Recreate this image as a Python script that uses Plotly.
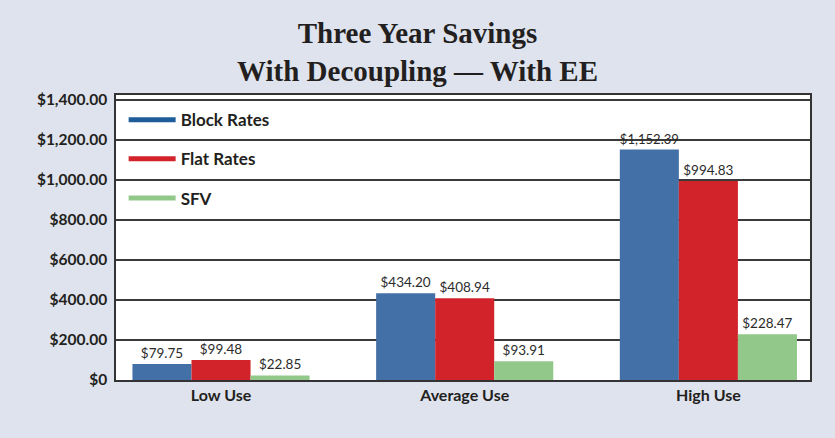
import plotly.graph_objects as go

categories = ["Low Use", "Average Use", "High Use"]
series_names = ["Block Rates", "Flat Rates", "SFV"]
block_rates = [79.75, 434.20, 1152.39]
flat_rates = [99.48, 408.94, 994.83]
sfv = [22.85, 93.91, 228.47]
tick_values = [0, 200, 400, 600, 800, 1000, 1200, 1400]
tick_labels = ["$0", "$200.00", "$400.00", "$600.00", "$800.00",
               "$1,000.00", "$1,200.00", "$1,400.00"]

bar_colors = ["#4470a8", "#d2232a", "#92c98a"]
legend_colors = ["#1f5c9a", "#d2232a", "#92c98a"]
values = [block_rates, flat_rates, sfv]

fig = go.Figure()
for name, vals, col in zip(series_names, values, bar_colors):
    fig.add_trace(go.Bar(
        x=categories, y=vals, name=name, marker=dict(color=col, line=dict(width=0)),
        texttemplate="$%{y:,.2f}", textposition="outside",
        textfont=dict(family="Lato", size=13.5, color="#2b2b2b"),
        cliponaxis=False, showlegend=False,
    ))
for i, (name, col) in enumerate(zip(series_names, legend_colors)):
    fig.add_trace(go.Scatter(
        x=[None], y=[None], mode="lines", name=name,
        line=dict(color=col, width=5), legendgroup=f"g{i}", showlegend=True,
    ))

fig.update_layout(
    width=835, height=438,
    paper_bgcolor="#dfe3ee", plot_bgcolor="#ffffff",
    margin=dict(l=116, r=25, t=95, b=58),
    barmode="group", bargap=0.273, bargroupgap=0,
    title=dict(
        text="<b>Three Year Savings<br>With Decoupling — With EE</b>",
        font=dict(family="Liberation Serif", size=29, color="#231f20"),
        x=0.5, xanchor="center", yref="container", y=1 - 43 / 438, yanchor="middle",
    ),
    legend=dict(
        x=0.011, y=0.975, xanchor="left", yanchor="top",
        bgcolor="rgba(0,0,0,0)", tracegroupgap=14,
        font=dict(family="Lato", size=17, color="#231f20", weight="bold"),
        itemwidth=47,
    ),
    xaxis=dict(
        range=[-0.431, 2.417],
        showline=True, linecolor="#333333", linewidth=1.5, mirror=True,
        tickfont=dict(family="Lato", size=16, color="#231f20", weight="bold"),
        ticks="", showgrid=False,
    ),
    yaxis=dict(
        range=[0, 1425], tickvals=tick_values, ticktext=tick_labels,
        showline=True, linecolor="#333333", linewidth=1.5, mirror=True,
        gridcolor="#3a3a3a", gridwidth=1.5, zeroline=False,
        tickfont=dict(family="Lato", size=15.5, color="#231f20", weight="bold"),
        ticks="", ticklabelstandoff=4,
    ),
)

fig.write_html("out.html", config={"displayModeBar": False},
               post_script="document.body.style.margin='0';")
